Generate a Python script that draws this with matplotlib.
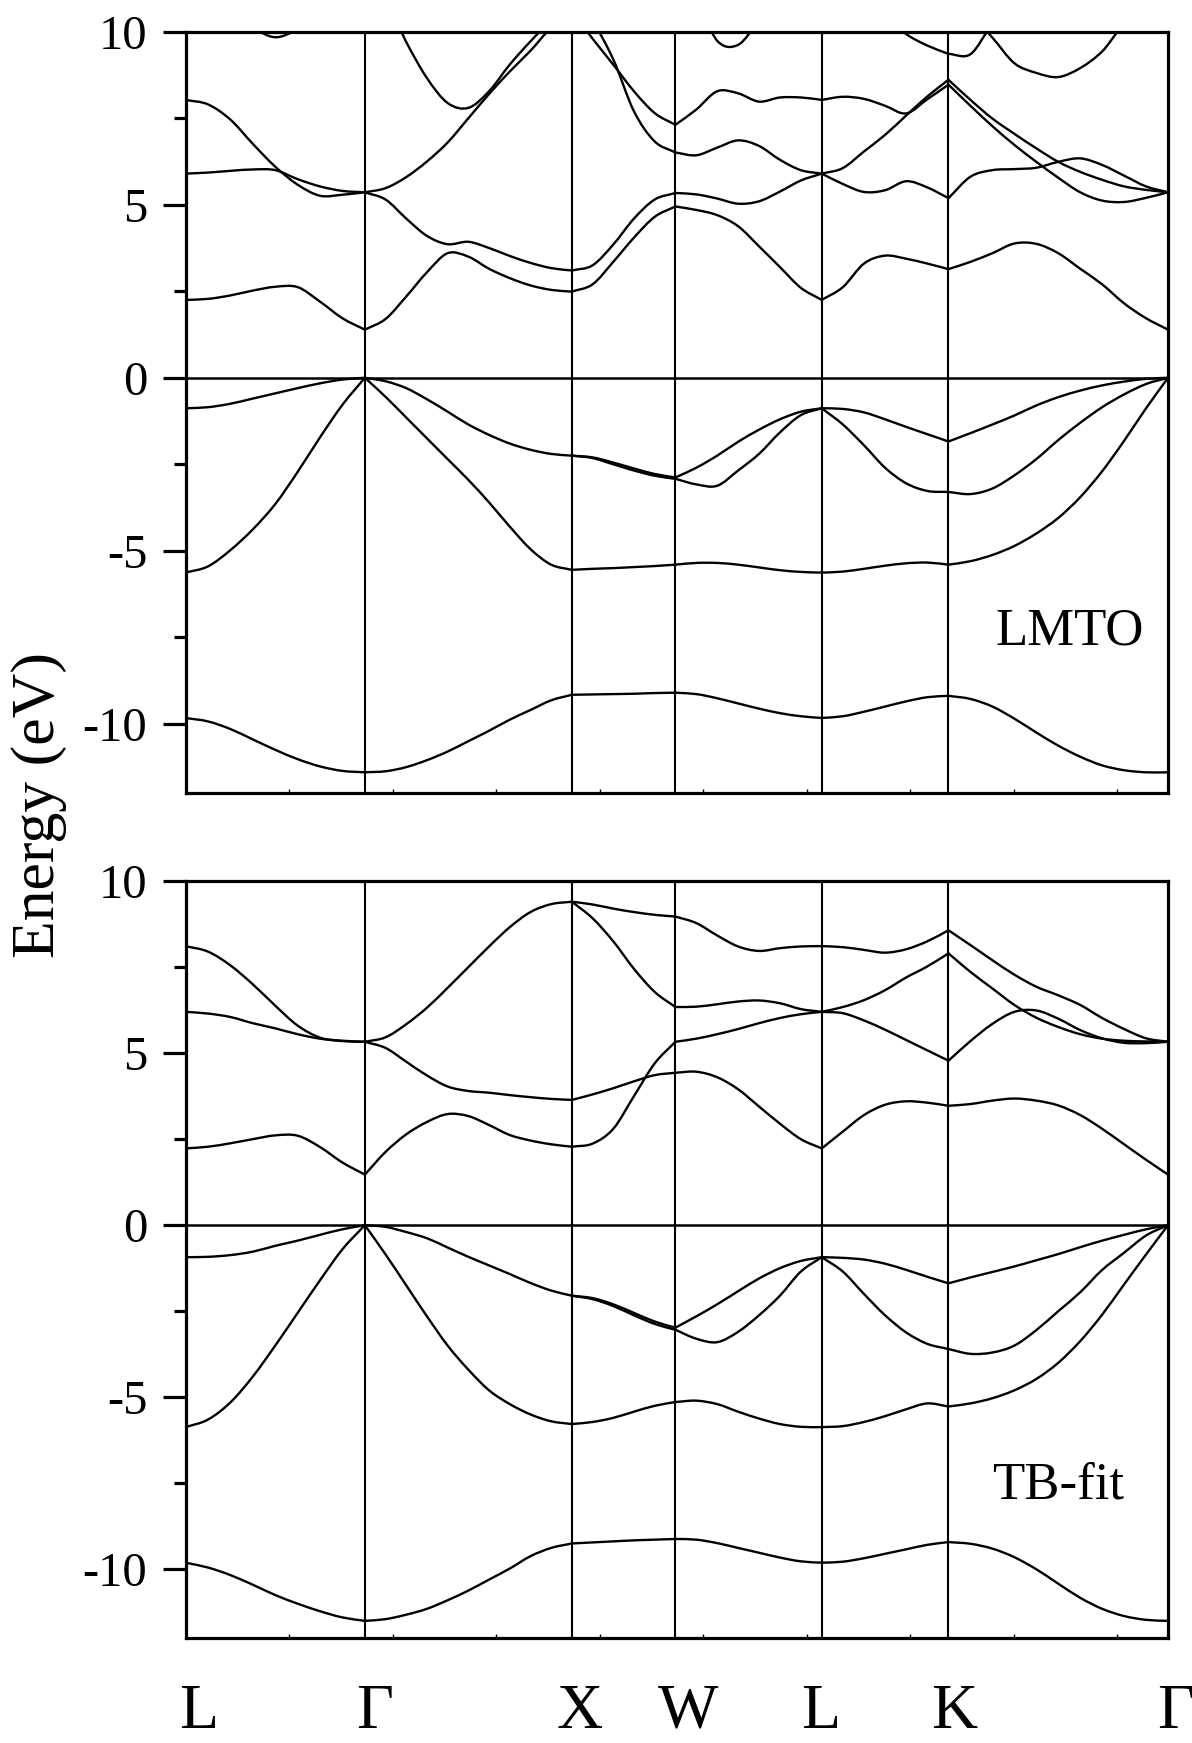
import numpy as np
import matplotlib.pyplot as plt
from matplotlib.path import Path
from matplotlib.patches import PathPatch
from matplotlib.ticker import MultipleLocator

# fcc path L-G-X-W-L-K-G, segment lengths in units of 2pi/a
path_labels = ['L', 'Γ', 'X', 'W', 'L', 'K', 'Γ']
seg_len = [np.sqrt(3) / 2, 1.0, 0.5, np.sqrt(2) / 2, np.sqrt(6) / 4, 3 * np.sqrt(2) / 4]
# small horizontal shifts of the point labels as set in the original (k units)
label_shift = [0.063, 0.048, 0.036, 0.063, -0.005, 0.029, 0.039]

# ---- LMTO bands (eV), each row sampled evenly along its segment ----
lmto_LG = [
    [-9.83, -9.93, -10.15, -10.45, -10.75, -11.02, -11.23, -11.36, -11.4],
    [-5.63, -5.45, -4.98, -4.38, -3.65, -2.72, -1.72, -0.78, 0.0],
    [-0.88, -0.85, -0.75, -0.6, -0.45, -0.3, -0.16, -0.05, 0.0],
    [2.25, 2.28, 2.38, 2.52, 2.63, 2.62, 2.2, 1.72, 1.39],
    [5.9, 5.93, 5.98, 6.02, 6.0, 5.74, 5.53, 5.4, 5.36],
    [8.03, 7.9, 7.46, 6.76, 6.1, 5.58, 5.26, 5.29, 5.36],
    [11.0, 10.7, 10.4, 10.1, 9.84, 10.05, 10.3, 10.15, 9.96],
]
lmto_GX = [
    [-11.4, -11.37, -11.25, -11.05, -10.8, -10.5, -10.2, -9.88, -9.6, -9.32, -9.16],
    [0.0, -0.55, -1.15, -1.75, -2.35, -2.95, -3.6, -4.3, -4.95, -5.4, -5.55],
    [0.0, -0.1, -0.3, -0.62, -0.98, -1.35, -1.65, -1.9, -2.08, -2.2, -2.25],
    [1.39, 1.7, 2.35, 3.05, 3.6, 3.5, 3.15, 2.88, 2.67, 2.54, 2.49],
    [5.36, 5.15, 4.6, 4.1, 3.86, 3.93, 3.75, 3.52, 3.32, 3.17, 3.1],
    [5.36, 5.48, 5.8, 6.25, 6.8, 7.5, 8.2, 8.85, 9.45, 10.1, 10.4],
    [9.96, 10.9, 9.7, 8.66, 7.94, 7.8, 8.28, 9.05, 9.72, 10.3, 10.5],
]
lmto_XW = [
    [-9.16, -9.15, -9.14, -9.13, -9.11, -9.1],
    [-5.55, -5.52, -5.5, -5.47, -5.44, -5.4],
    [-2.25, -2.3, -2.45, -2.62, -2.78, -2.88],
    [-2.25, -2.32, -2.5, -2.68, -2.83, -2.92],
    [2.49, 2.7, 3.35, 4.05, 4.65, 4.95],
    [3.1, 3.25, 3.85, 4.6, 5.15, 5.34],
    [11.0, 10.3, 9.2, 7.7, 6.83, 6.51],
    [10.6, 9.8, 9.05, 8.28, 7.65, 7.31],
]
lmto_WL = [
    [-9.1, -9.14, -9.26, -9.41, -9.56, -9.69, -9.78, -9.83],
    [-5.4, -5.35, -5.35, -5.4, -5.48, -5.56, -5.61, -5.63],
    [-2.88, -2.6, -2.25, -1.85, -1.5, -1.2, -0.98, -0.88],
    [-2.92, -3.08, -3.12, -2.68, -2.2, -1.58, -1.08, -0.88],
    [4.95, 4.85, 4.7, 4.38, 3.8, 3.2, 2.6, 2.25],
    [5.34, 5.3, 5.18, 5.03, 5.1, 5.38, 5.7, 5.9],
    [6.51, 6.43, 6.65, 6.86, 6.7, 6.3, 6.0, 5.9],
    [7.31, 7.75, 8.28, 8.22, 7.98, 8.1, 8.1, 8.03],
    [11.5, 10.95, 9.74, 9.62, 10.3, 10.8, 11.0, 11.2],
]
lmto_LK = [
    [-9.83, -9.78, -9.65, -9.5, -9.35, -9.23, -9.19],
    [-5.63, -5.6, -5.52, -5.43, -5.36, -5.34, -5.4],
    [-0.88, -0.9, -1.0, -1.2, -1.42, -1.63, -1.84],
    [-0.88, -1.35, -1.95, -2.6, -3.05, -3.27, -3.3],
    [2.25, 2.62, 3.3, 3.53, 3.44, 3.3, 3.14],
    [5.9, 5.6, 5.37, 5.42, 5.68, 5.5, 5.19],
    [5.9, 6.06, 6.54, 7.02, 7.58, 8.13, 8.61],
    [8.03, 8.12, 8.06, 7.86, 7.64, 8.05, 8.47],
    [11.5, 11.2, 10.9, 10.45, 9.93, 9.6, 9.36],
]
lmto_KG = [
    [-9.19, -9.28, -9.5, -9.85, -10.25, -10.63, -10.95, -11.2, -11.34, -11.4, -11.4],
    [-5.4, -5.3, -5.12, -4.86, -4.5, -4.05, -3.45, -2.7, -1.82, -0.88, 0.0],
    [-1.84, -1.6, -1.35, -1.09, -0.8, -0.56, -0.37, -0.22, -0.11, -0.03, 0.0],
    [-3.3, -3.36, -3.2, -2.82, -2.35, -1.8, -1.3, -0.85, -0.48, -0.18, 0.0],
    [3.14, 3.35, 3.6, 3.88, 3.87, 3.6, 3.15, 2.7, 2.15, 1.72, 1.39],
    [5.19, 5.81, 6.0, 6.03, 6.07, 6.24, 6.34, 6.15, 5.84, 5.53, 5.36],
    [8.47, 7.86, 7.27, 6.73, 6.24, 5.78, 5.36, 5.12, 5.08, 5.2, 5.36],
    [8.61, 8.03, 7.49, 7.05, 6.63, 6.24, 5.95, 5.72, 5.53, 5.43, 5.36],
    [9.36, 9.35, 10.2, 10.6, 10.9, 11.2, 11.4, 11.5, 11.6, 11.7, 11.8],
    [11.0, 10.5, 9.83, 9.09, 8.81, 8.69, 8.95, 9.43, 10.2, 10.4, 9.96],
]

# ---- TB-fit bands (eV) ----
tb_LG = [
    [-9.81, -9.95, -10.17, -10.45, -10.75, -11.0, -11.22, -11.4, -11.5],
    [-5.87, -5.65, -5.15, -4.4, -3.5, -2.55, -1.6, -0.7, 0.0],
    [-0.93, -0.92, -0.87, -0.77, -0.6, -0.45, -0.28, -0.12, 0.0],
    [2.23, 2.28, 2.38, 2.5, 2.61, 2.6, 2.27, 1.82, 1.47],
    [6.2, 6.15, 6.05, 5.87, 5.72, 5.55, 5.42, 5.36, 5.33],
    [8.11, 7.95, 7.55, 7.0, 6.38, 5.8, 5.45, 5.35, 5.33],
]
tb_GX = [
    [-11.5, -11.45, -11.32, -11.15, -10.9, -10.62, -10.3, -9.98, -9.62, -9.38, -9.25],
    [0.0, -0.85, -1.75, -2.65, -3.5, -4.2, -4.8, -5.2, -5.5, -5.7, -5.78],
    [0.0, -0.05, -0.2, -0.38, -0.65, -0.92, -1.17, -1.42, -1.68, -1.9, -2.05],
    [1.47, 2.13, 2.64, 3.0, 3.23, 3.17, 2.91, 2.62, 2.46, 2.35, 2.28],
    [5.33, 5.15, 4.75, 4.35, 4.03, 3.9, 3.85, 3.78, 3.72, 3.67, 3.64],
    [5.33, 5.46, 5.84, 6.32, 6.9, 7.5, 8.1, 8.66, 9.1, 9.33, 9.4],
]
tb_XW = [
    [-9.25, -9.22, -9.19, -9.16, -9.14, -9.12],
    [-5.78, -5.72, -5.6, -5.42, -5.25, -5.14],
    [-2.05, -2.12, -2.3, -2.55, -2.8, -2.98],
    [-2.05, -2.15, -2.35, -2.62, -2.87, -3.04],
    [2.28, 2.37, 2.8, 3.75, 4.7, 5.33],
    [3.64, 3.8, 3.98, 4.18, 4.36, 4.43],
    [9.4, 8.92, 8.25, 7.45, 6.78, 6.34],
    [9.4, 9.32, 9.2, 9.1, 9.02, 8.97],
]
tb_WL = [
    [-9.12, -9.14, -9.24, -9.38, -9.52, -9.66, -9.77, -9.81],
    [-5.14, -5.1, -5.2, -5.42, -5.62, -5.78, -5.86, -5.87],
    [-2.98, -2.65, -2.3, -1.92, -1.55, -1.25, -1.04, -0.93],
    [-3.04, -3.3, -3.4, -3.1, -2.62, -2.05, -1.35, -0.93],
    [4.43, 4.46, 4.3, 3.95, 3.45, 2.95, 2.5, 2.23],
    [5.33, 5.42, 5.55, 5.7, 5.87, 6.02, 6.13, 6.2],
    [6.34, 6.35, 6.42, 6.5, 6.53, 6.45, 6.28, 6.2],
    [8.97, 8.78, 8.42, 8.1, 7.97, 8.05, 8.1, 8.11],
]
tb_LK = [
    [-9.81, -9.78, -9.68, -9.55, -9.42, -9.29, -9.21],
    [-5.87, -5.84, -5.72, -5.55, -5.35, -5.18, -5.27],
    [-0.93, -0.95, -1.0, -1.12, -1.3, -1.5, -1.69],
    [-0.93, -1.35, -2.0, -2.62, -3.12, -3.45, -3.6],
    [2.23, 2.72, 3.2, 3.5, 3.6, 3.56, 3.47],
    [6.2, 6.16, 5.95, 5.68, 5.38, 5.08, 4.78],
    [6.2, 6.34, 6.54, 6.83, 7.2, 7.52, 7.9],
    [8.11, 8.08, 8.0, 7.92, 8.02, 8.25, 8.57],
]
tb_KG = [
    [-9.21, -9.26, -9.4, -9.65, -10.0, -10.42, -10.83, -11.15, -11.36, -11.47, -11.5],
    [-5.27, -5.18, -5.03, -4.8, -4.47, -4.0, -3.37, -2.6, -1.72, -0.85, 0.0],
    [-1.69, -1.52, -1.36, -1.2, -1.02, -0.84, -0.64, -0.45, -0.28, -0.12, 0.0],
    [-3.6, -3.74, -3.7, -3.5, -3.05, -2.5, -1.95, -1.3, -0.8, -0.3, 0.0],
    [3.47, 3.52, 3.62, 3.68, 3.62, 3.48, 3.2, 2.8, 2.35, 1.9, 1.47],
    [4.78, 5.35, 5.85, 6.2, 6.24, 6.0, 5.67, 5.43, 5.3, 5.29, 5.33],
    [7.9, 7.36, 6.88, 6.4, 6.03, 5.76, 5.55, 5.42, 5.36, 5.34, 5.33],
    [8.57, 8.14, 7.7, 7.28, 6.93, 6.68, 6.4, 6.02, 5.7, 5.43, 5.33],
]

lmto = [lmto_LG, lmto_GX, lmto_XW, lmto_WL, lmto_LK, lmto_KG]
tbfit = [tb_LG, tb_GX, tb_XW, tb_WL, tb_LK, tb_KG]

plt.rcParams['font.family'] = ['Liberation Serif', 'DejaVu Serif']

kpts = np.concatenate([[0.0], np.cumsum(seg_len)])

fig = plt.figure(figsize=(11.92, 17.43), dpi=100)
ax1 = fig.add_axes([0.1557, 0.5450, 0.8242, 0.4368])
ax2 = fig.add_axes([0.1557, 0.0602, 0.8242, 0.4343])


def smooth_path(x, y):
    # cubic Bezier through the read points (Catmull-Rom style tangents)
    p = np.column_stack([x, y])
    n = len(p)
    m = np.empty_like(p)
    m[1:-1] = (p[2:] - p[:-2]) / 2
    m[0] = p[1] - p[0]
    m[-1] = p[-1] - p[-2]
    verts = [p[0]]
    codes = [Path.MOVETO]
    for i in range(n - 1):
        verts += [p[i] + m[i] / 3, p[i + 1] - m[i + 1] / 3, p[i + 1]]
        codes += [Path.CURVE4] * 3
    return Path(verts, codes)


def draw_panel(ax, segments, name, nx, ny):
    for i, seg in enumerate(segments):
        for band in seg:
            f = np.linspace(0, 1, len(band))
            path = smooth_path(kpts[i] + f * seg_len[i], np.array(band))
            ax.add_patch(PathPatch(path, fill=False, edgecolor='k', lw=1.7,
                                   joinstyle='round', capstyle='round'))
    for k in kpts[1:-1]:
        ax.axvline(k, color='k', lw=1.5)
    ax.axhline(0, color='k', lw=1.8)
    ax.set_xlim(kpts[0], kpts[-1])
    ax.set_ylim(-12, 10)
    ax.set_yticks([-10, -5, 0, 5, 10])
    ax.set_yticklabels(['-10', '-5', '0', '5', '10'])
    ax.yaxis.set_minor_locator(MultipleLocator(2.5))
    ax.tick_params(axis='y', which='major', direction='out', length=16.5,
                   width=2.3, labelsize=35, pad=11)
    ax.tick_params(axis='y', which='minor', direction='out', length=8.3,
                   width=2.3)
    ax.set_xticks(kpts)
    ax.set_xticklabels([])
    ax.tick_params(axis='x', which='major', length=0)
    ax.xaxis.set_minor_locator(MultipleLocator(0.5))
    ax.tick_params(axis='x', which='minor', direction='in', length=3,
                   width=1.0, top=False)
    for s in ax.spines.values():
        s.set_linewidth(2.3)
    ax.text(nx, ny, name, ha='right', va='baseline', fontsize=38)


draw_panel(ax1, lmto, 'LMTO', 4.63, -7.72)
draw_panel(ax2, tbfit, 'TB-fit', 4.535, -7.95)

# high-symmetry point labels under the lower panel
for k, dk, lab in zip(kpts, label_shift, path_labels):
    ax2.text(k + dk, -0.0605, lab, transform=ax2.get_xaxis_transform(),
             ha='center', va='top', fontsize=46, clip_on=False)

fig.text(0.033, 0.5384, 'Energy (eV)', rotation=90, ha='center', va='center',
         fontsize=44.5)

fig.savefig('out.png', dpi=100)
